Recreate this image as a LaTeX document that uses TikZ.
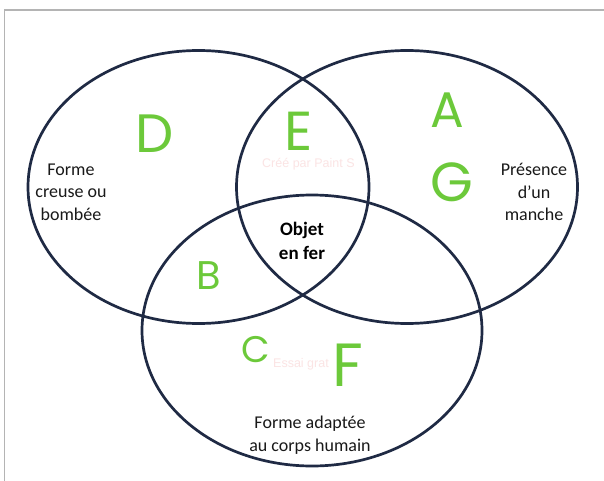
\documentclass[tikz,border=0pt]{standalone}
\usepackage{fontspec}
\setmainfont{Carlito}
\newfontfamily\handfont{Poppins}
\newfontfamily\wmfont{Liberation Sans}
\definecolor{navy}{HTML}{1F2A44}
\definecolor{lettergreen}{HTML}{6CC93A}
\definecolor{framegray}{HTML}{B4B4B4}
\definecolor{wmpink}{HTML}{FBE4E4}
\begin{document}
\begin{tikzpicture}[x=1pt,y=-1pt,
  ring/.style={draw=navy, line width=2.7pt},
  setlabel/.style={font=\fontsize{18}{22.5}\selectfont, align=center, inner sep=0pt, text=black!90},
  core/.style={font=\bfseries\fontsize{19}{24}\selectfont, align=center, inner sep=0pt, text=black},
  letter/.style={text=lettergreen, inner sep=0pt},
  wm/.style={font=\wmfont\fontsize{12.5}{15}\selectfont, text=wmpink, inner sep=0pt}]
\useasboundingbox (0,0) rectangle (604,481);
\fill[white] (0,0) rectangle (604,481);
\draw[framegray, line width=1.2pt] (4.5,481) -- (4.5,10) -- (604,10);

% faint watermarks
\node[wm, anchor=west] (wm1) at (262,164) {Créé par Paint S};
\node[wm, anchor=west] (wm2) at (273,364) {Essai grat};

% sets
\draw[ring] (198.5,187) ellipse [x radius=170.5, y radius=136.5];
\draw[ring] (407,187) ellipse [x radius=170.5, y radius=136.5];
\draw[ring] (312,330.5) ellipse [x radius=170, y radius=135.5];

% labels
\node[setlabel] (lblL) at (71,192) {Forme\\creuse ou\\bombée};
\node[setlabel] (lblR) at (534,192) {Présence\\d’un\\manche};
\node[setlabel] (lblB) at (310,435) {Forme adaptée\\au corps humain};
\node[core] (center) at (302,241) {Objet\\en fer};

% letters
\node[letter, font=\handfont\fontsize{54}{54}\selectfont] (D) at (155,134) {D};
\node[letter, font=\handfont\fontsize{55}{55}\selectfont] (E) at (299,131) {E};
\node[letter, font=\handfont\fontsize{50}{50}\selectfont] (A) at (447,110) {A};
\node[letter, font=\handfont\fontsize{55}{55}\selectfont] (G) at (452,182) {G};
\node[letter, font=\handfont\fontsize{40}{40}\selectfont] (B) at (209,276) {B};
\node[letter, font=\handfont\fontsize{37}{37}\selectfont] (C) at (256,350) {C};
\node[letter, font=\handfont\fontsize{61}{61}\selectfont] (F) at (348,365) {F};
\end{tikzpicture}
\end{document}
